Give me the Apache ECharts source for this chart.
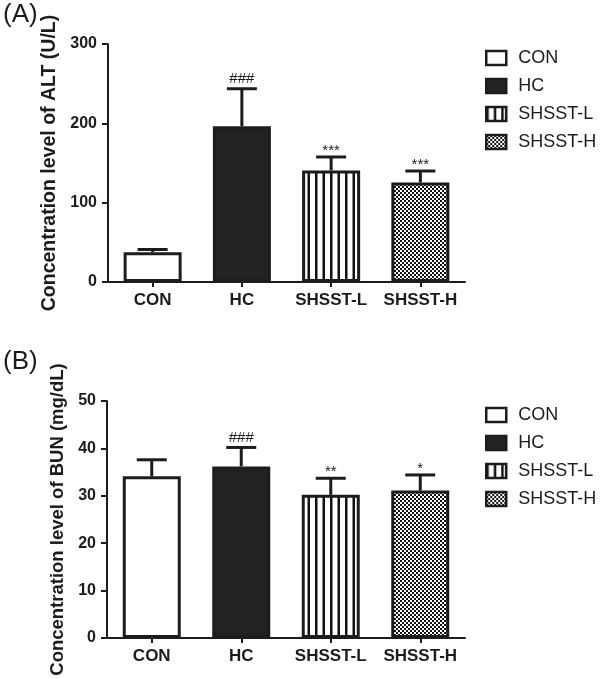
<!DOCTYPE html>
<html>
<head>
<meta charset="utf-8">
<script src="https://cdn.jsdelivr.net/npm/echarts@6/dist/echarts.min.js"></script>
<style>
html,body{margin:0;padding:0;background:#fff;}
#chart{width:600px;height:679px;}
</style>
</head>
<body>
<div id="chart"></div>
<script>
// ---- data ----
const categories = ['CON', 'HC', 'SHSST-L', 'SHSST-H'];
const altMean = [37.5, 196.3, 140.7, 125.5];
const altErr = [3.5, 47.3, 16.9, 14.4];
const altMarks = ['', '###', '***', '***'];
const bunMean = [34.1, 36.2, 30.2, 31.1];
const bunErr = [3.5, 4.0, 3.5, 3.3];
const bunMarks = ['', '###', '**', '*'];
const altTicks = [0, 100, 200, 300];
const bunTicks = [0, 10, 20, 30, 40, 50];

// ---- patterns ----
function stripePattern() {
  const c = document.createElement('canvas');
  c.width = 15; c.height = 4;
  const g = c.getContext('2d');
  g.fillStyle = '#fff'; g.fillRect(0, 0, 15, 4);
  g.fillStyle = '#111';
  g.fillRect(0, 0, 2.5, 4);
  g.fillRect(7.5, 0, 2.5, 4);
  return c;
}
function dotPattern() {
  const c = document.createElement('canvas');
  c.width = 4; c.height = 4;
  const g = c.getContext('2d');
  g.fillStyle = '#fff'; g.fillRect(0, 0, 4, 4);
  g.fillStyle = '#111';
  g.fillRect(0, 0, 2, 2);
  g.fillRect(2, 2, 2, 2);
  return c;
}
const stripes = { image: stripePattern(), repeat: 'repeat' };
const dots = { image: dotPattern(), repeat: 'repeat' };
const INK = '#1c1c1c';
const fills = ['#ffffff', '#222222', stripes, dots];
const FONT = 'Liberation Sans, Arial, sans-serif';

const chart = echarts.init(document.getElementById('chart'), null, { renderer: 'canvas' });

function barSeries(means, gi) {
  return categories.map((name, i) => ({
    name: name,
    type: 'bar',
    xAxisIndex: gi, yAxisIndex: gi,
    barWidth: 58,
    barGap: '-100%',
    data: means.map((v, j) => (j === i ? v : '-')),
    itemStyle: { color: fills[i], borderColor: INK, borderWidth: 3 },
    emphasis: { disabled: true },
    z: 2
  }));
}

function errSeries(means, errs, marks, gi) {
  return {
    type: 'custom',
    xAxisIndex: gi, yAxisIndex: gi,
    data: means.map((m, i) => [i, m, errs[i]]),
    z: 5,
    silent: true,
    renderItem: function (params, api) {
      const i = api.value(0);
      const m = api.value(1);
      const e = api.value(2);
      const p0 = api.coord([i, m]);
      const p1 = api.coord([i, m + e]);
      const mark = marks[params.dataIndex];
      const star = mark.indexOf('*') >= 0;
      const children = [
        { type: 'line', shape: { x1: p0[0], y1: p0[1], x2: p1[0], y2: p1[1] }, style: { stroke: INK, lineWidth: 3 } },
        { type: 'line', shape: { x1: p1[0] - 15, y1: p1[1], x2: p1[0] + 15, y2: p1[1] }, style: { stroke: INK, lineWidth: 3 } }
      ];
      if (mark) {
        children.push({
          type: 'text',
          style: {
            text: mark,
            x: p1[0],
            y: star ? p1[1] + 1 : p1[1] - 2,
            textAlign: 'center',
            textVerticalAlign: 'bottom',
            fontSize: 15,
            fontFamily: FONT,
            fill: INK
          }
        });
      }
      return { type: 'group', children: children };
    }
  };
}

function yAxis(gi, max, interval, name, nameSize, nameGap) {
  return {
    type: 'value', gridIndex: gi, min: 0, max: max, interval: interval,
    name: name, nameLocation: 'middle', nameGap: nameGap, nameRotate: 90,
    nameTextStyle: { fontFamily: FONT, fontWeight: 'bold', fontSize: nameSize, color: INK },
    axisLine: { show: true, lineStyle: { color: INK, width: 2 } },
    axisTick: { show: true, length: 6, lineStyle: { color: INK, width: 2 } },
    axisLabel: { fontFamily: FONT, fontWeight: 'bold', fontSize: 16, color: INK, margin: 11 },
    splitLine: { show: false }
  };
}
function xAxis(gi) {
  return {
    type: 'category', gridIndex: gi, data: categories,
    axisLine: { show: true, lineStyle: { color: INK, width: 2 } },
    axisTick: { show: true, alignWithLabel: true, length: 5, lineStyle: { color: INK, width: 2 } },
    axisLabel: { interval: 0, fontFamily: FONT, fontWeight: 'bold', fontSize: 17, color: INK, margin: 10 }
  };
}
function legend(top) {
  return {
    orient: 'vertical', left: 480, top: top,
    itemWidth: 20, itemHeight: 14, itemGap: 10,
    icon: 'rect',
    selectedMode: false,
    textStyle: { fontFamily: FONT, fontSize: 18, color: INK, padding: [0, 0, 0, 7] },
    data: categories.map((n, i) => ({
      name: n,
      itemStyle: { color: fills[i], borderColor: INK, borderWidth: 2.5 }
    }))
  };
}

const option = {
  animation: false,
  backgroundColor: '#fff',
  title: [
    { text: '(A)', left: -2, top: -3, textStyle: { fontFamily: FONT, fontWeight: 'normal', fontSize: 26, color: INK } },
    { text: '(B)', left: -2, top: 344, textStyle: { fontFamily: FONT, fontWeight: 'normal', fontSize: 26, color: INK } }
  ],
  legend: [legend(44), legend(401)],
  grid: [
    { left: 108, top: 44, width: 357, height: 238 },
    { left: 107, top: 401, width: 358, height: 237 }
  ],
  xAxis: [xAxis(0), xAxis(1)],
  yAxis: [
    yAxis(0, altTicks[altTicks.length - 1], altTicks[1] - altTicks[0], 'Concentration level of ALT (U/L)', 19.5, 38),
    yAxis(1, bunTicks[bunTicks.length - 1], bunTicks[1] - bunTicks[0], 'Concentration level of BUN (mg/dL)', 18.5, 34)
  ],
  series: [].concat(
    barSeries(altMean, 0),
    [errSeries(altMean, altErr, altMarks, 0)],
    barSeries(bunMean, 1),
    [errSeries(bunMean, bunErr, bunMarks, 1)]
  )
};
chart.setOption(option);
</script>
</body>
</html>
